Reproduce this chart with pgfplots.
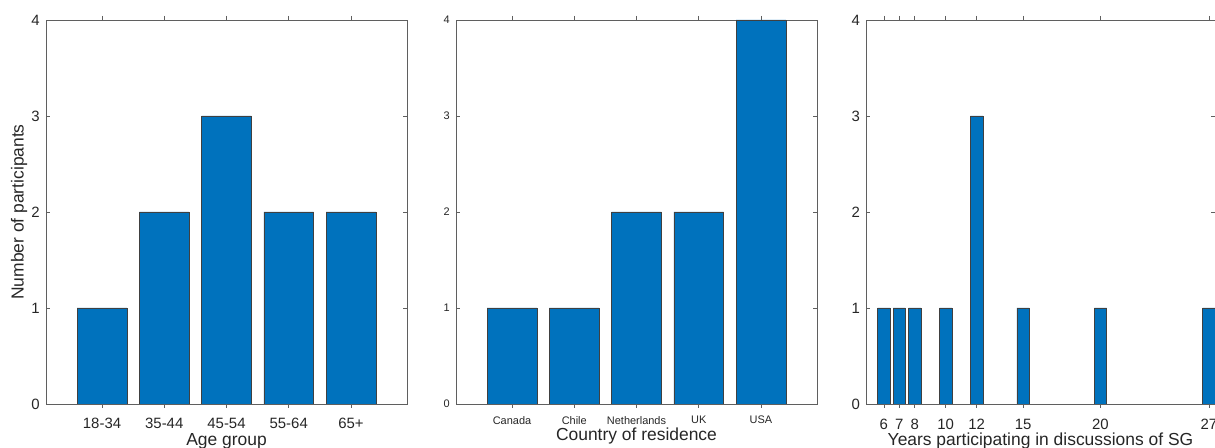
\documentclass[border=0pt]{standalone}
\usepackage{fontspec}
\setmainfont{Liberation Sans}
\usepackage{pgfplots}
\pgfplotsset{compat=1.18}
\definecolor{mblue}{RGB}{0,114,189}
\definecolor{axgray}{RGB}{95,95,95}
\definecolor{txt}{RGB}{38,38,38}
\pgfplotsset{
  mystyle/.style={
    scale only axis, height=384bp, ymin=0, ymax=4, ytick={0,1,2,3,4},
    axis line style={axgray, line width=0.6bp},
    every tick/.style={axgray, line width=0.6bp},
    major tick length=4bp, tick align=inside,
    minor tick num=0,
    /pgf/number format/assume math mode=true,
    ybar, anchor=south west,
    yticklabel style={anchor=east, inner sep=0pt, xshift=-6bp, text=txt},
    xticklabel style={anchor=north, inner sep=0pt, text=txt},
    xlabel style={at={(axis description cs:0.5,0)}, anchor=north, inner sep=0pt, text=txt, font=\fontsize{17.5}{20}\selectfont},
  },
  barstyle/.style={fill=mblue, draw=black!75, line width=0.4bp, bar width=0.8},
}
\begin{document}
\begin{tikzpicture}
\useasboundingbox (0bp,0bp) rectangle (1215bp,448bp);
% Panel 1
\begin{axis}[mystyle, at={(46bp,44bp)}, width=361bp,
  xmin=0.1, xmax=5.9, xtick={1,2,3,4,5},
  xticklabels={18-34,35-44,45-54,55-64,65+},
  ticklabel style={font=\fontsize{15}{18}\selectfont},
  xticklabel style={yshift=-10bp},
  xlabel={Age group}, xlabel style={yshift=-29bp},
  ylabel={Number of participants},
  ylabel style={at={(axis description cs:-0.0748,0.5)}, anchor=center, inner sep=0pt, text=txt, font=\fontsize{17.5}{20}\selectfont},
]
\addplot[barstyle] coordinates {(1,1)(2,2)(3,3)(4,2)(5,2)};
\end{axis}
% Panel 2
\begin{axis}[mystyle, at={(456bp,44bp)}, width=361bp,
  xmin=0.1, xmax=5.9, xtick={1,2,3,4,5},
  xticklabels={Canada,Chile,Netherlands,UK,USA},
  ticklabel style={font=\fontsize{11}{13}\selectfont},
  xticklabel style={yshift=-8bp},
  xlabel={Country of residence}, xlabel style={yshift=-24bp},
]
\addplot[barstyle] coordinates {(1,1)(2,1)(3,2)(4,2)(5,4)};
\end{axis}
% Panel 3
\begin{axis}[mystyle, at={(866bp,44bp)}, width=349bp,
  xmin=4.85, xmax=27.4, xtick={6,7,8,10,12,15,20,27},
  ticklabel style={font=\fontsize{15}{18}\selectfont},
  xticklabel style={yshift=-11bp},
  xlabel={Years participating in discussions of SG}, xlabel style={yshift=-29bp},
]
\addplot[barstyle] coordinates {(6,1)(7,1)(8,1)(10,1)(12,3)(15,1)(20,1)(27,1)};
\end{axis}
\end{tikzpicture}
\end{document}
